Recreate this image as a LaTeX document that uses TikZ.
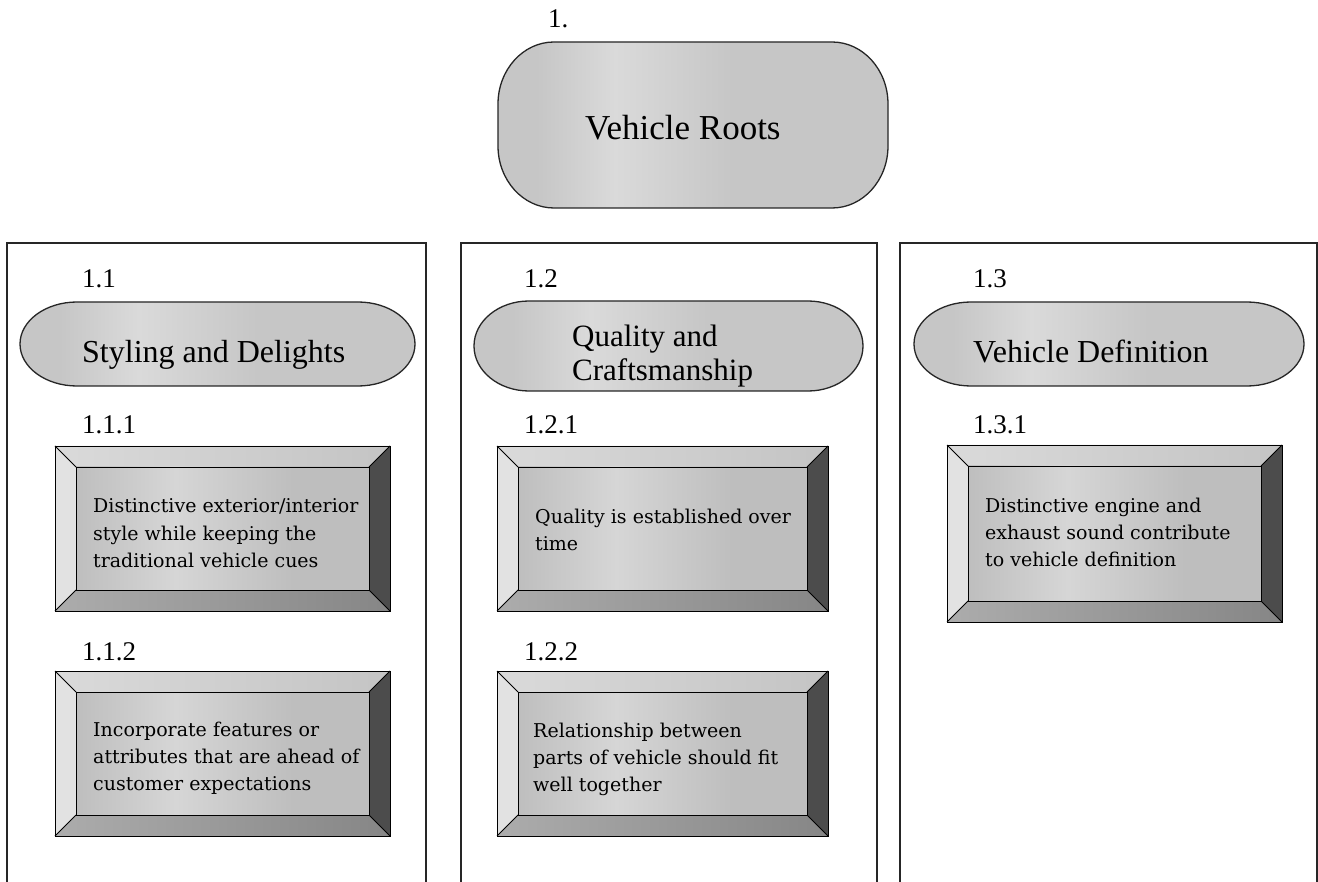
\documentclass[tikz,border=0pt]{standalone}
\usepackage{fontspec}
\setmainfont{Liberation Serif}
\newfontfamily\boxfont{DejaVu Serif}

\definecolor{ovalgray}{HTML}{C6C6C6}
\definecolor{ovallight}{HTML}{DADADA}
\definecolor{facetopA}{HTML}{DADADA}
\definecolor{facetopB}{HTML}{C4C4C4}
\definecolor{faceleft}{HTML}{E2E2E2}
\definecolor{faceright}{HTML}{4C4C4C}
\definecolor{facebottomA}{HTML}{ACACAC}
\definecolor{facebottomB}{HTML}{868686}
\definecolor{facemid}{HTML}{BEBEBE}
\definecolor{facemidlight}{HTML}{D6D6D6}

\pgfdeclarehorizontalshading{ovalshade}{100bp}{color(0bp)=(ovalgray); color(30bp)=(ovalgray); color(40bp)=(ovallight); color(55bp)=(ovalgray); color(100bp)=(ovalgray)}
\pgfdeclarehorizontalshading{midshade}{100bp}{color(0bp)=(facemid); color(25bp)=(facemid); color(42bp)=(facemidlight); color(62bp)=(facemid); color(100bp)=(facemid)}

\tikzset{
  panel/.style={draw=black!85, line width=1.3pt},
  ovalstyle/.style={draw=black!85, line width=1.3pt, shading=ovalshade},
  edge/.style={draw=black, line width=0.9pt},
  numlabel/.style={anchor=base west, inner sep=0pt, font=\fontsize{27}{27}\selectfont},
  ovaltext/.style={anchor=base west, inner sep=0pt, font=\fontsize{32}{37}\selectfont},
  ovaltextsmall/.style={anchor=base west, inner sep=0pt, font=\fontsize{31}{34}\selectfont},
  titletext/.style={anchor=base west, inner sep=0pt, font=\fontsize{35}{40}\selectfont},
  boxtext/.style={anchor=base west, inner sep=0pt, font=\boxfont\fontsize{19}{27}\selectfont}
}

% rounded capsule with elliptic corners: x1,y1,x2,y2,rx,ry
\newcommand\capsule[6]{%
  \path[ovalstyle] ({#1+#5},#2) -- ({#3-#5},#2)
    arc[start angle=90,end angle=0,x radius=#5pt,y radius=#6pt] -- (#3,{#4-#6})
    arc[start angle=0,end angle=-90,x radius=#5pt,y radius=#6pt] -- ({#1+#5},#4)
    arc[start angle=270,end angle=180,x radius=#5pt,y radius=#6pt] -- (#1,{#2+#6})
    arc[start angle=180,end angle=90,x radius=#5pt,y radius=#6pt] -- cycle;}

% bevelled button box: x1,y1,x2,y2,bevel
\newcommand\bevelbox[5]{%
  \shade[left color=facetopA, right color=facetopB] (#1,#2) -- (#3,#2) -- ({#3-#5},{#2+#5}) -- ({#1+#5},{#2+#5}) -- cycle;
  \fill[faceleft] (#1,#2) -- ({#1+#5},{#2+#5}) -- ({#1+#5},{#4-#5}) -- (#1,#4) -- cycle;
  \fill[faceright] (#3,#2) -- (#3,#4) -- ({#3-#5},{#4-#5}) -- ({#3-#5},{#2+#5}) -- cycle;
  \shade[left color=facebottomA, right color=facebottomB] (#1,#4) -- (#3,#4) -- ({#3-#5},{#4-#5}) -- ({#1+#5},{#4-#5}) -- cycle;
  \shade[shading=midshade] ({#1+#5},{#2+#5}) rectangle ({#3-#5},{#4-#5});
  \draw[edge] (#1,#2) rectangle (#3,#4);
  \draw[edge] ({#1+#5},{#2+#5}) rectangle ({#3-#5},{#4-#5});
  \draw[edge] (#1,#2) -- ({#1+#5},{#2+#5}) (#3,#2) -- ({#3-#5},{#2+#5})
              (#1,#4) -- ({#1+#5},{#4-#5}) (#3,#4) -- ({#3-#5},{#4-#5});}

\begin{document}
\begin{tikzpicture}[x=1pt,y=-1pt]
\useasboundingbox[fill=white] (0,0) rectangle (1318,882);

% column panels, open at the bottom
\draw[panel] (7,882) -- (7,243) -- (426,243) -- (426,882);
\draw[panel] (461,882) -- (461,243) -- (877,243) -- (877,882);
\draw[panel] (900,882) -- (900,243) -- (1317,243) -- (1317,882);

% root
\node[numlabel] (n1) at (548,28) {1.};
\capsule{498}{42}{888}{208}{56}{62}
\node[titletext] (root) at (585,140) {Vehicle Roots};

% second level
\node[numlabel] (n11) at (82,288) {1.1};
\node[numlabel] (n12) at (524,288) {1.2};
\node[numlabel] (n13) at (973,288) {1.3};
\capsule{20}{302}{415}{386}{57}{42}
\capsule{474}{301}{863}{391}{55}{45}
\capsule{914}{302}{1304}{386}{57}{42}
\node[ovaltext] (styling) at (82,363) {Styling and Delights};
\node[ovaltextsmall] (quality1) at (572,347) {Quality and};
\node[ovaltextsmall] (quality2) at (572,381) {Craftsmanship};
\node[ovaltext] (vdef) at (973,363) {Vehicle Definition};

% third level
\node[numlabel] (n111) at (82,434) {1.1.1};
\node[numlabel] (n112) at (82,660) {1.1.2};
\node[numlabel] (n121) at (524,434) {1.2.1};
\node[numlabel] (n122) at (524,660) {1.2.2};
\node[numlabel] (n131) at (973,434) {1.3.1};

\bevelbox{55}{446}{390}{611}{21}
\bevelbox{55}{671}{390}{836}{21}
\bevelbox{497}{446}{828}{611}{21}
\bevelbox{497}{671}{828}{836}{21}
\bevelbox{947}{445}{1282}{622}{21}

\node[boxtext] (a1) at (93,513) {Distinctive exterior/interior};
\node[boxtext] (a2) at (93,540) {style while keeping the};
\node[boxtext] (a3) at (93,567) {traditional vehicle cues};

\node[boxtext] (b1) at (93,736) {Incorporate features or};
\node[boxtext] (b2) at (93,763) {attributes that are ahead of};
\node[boxtext] (b3) at (93,790) {customer expectations};

\node[boxtext] (c1) at (535,523) {Quality is established over};
\node[boxtext] (c2) at (535,550) {time};

\node[boxtext] (d1) at (533,737) {Relationship between};
\node[boxtext] (d2) at (533,764) {parts of vehicle should fit};
\node[boxtext] (d3) at (533,791) {well together};

\node[boxtext] (e1) at (985,512) {Distinctive engine and};
\node[boxtext] (e2) at (985,539) {exhaust sound contribute};
\node[boxtext] (e3) at (985,566) {to vehicle definition};
\end{tikzpicture}
\end{document}
